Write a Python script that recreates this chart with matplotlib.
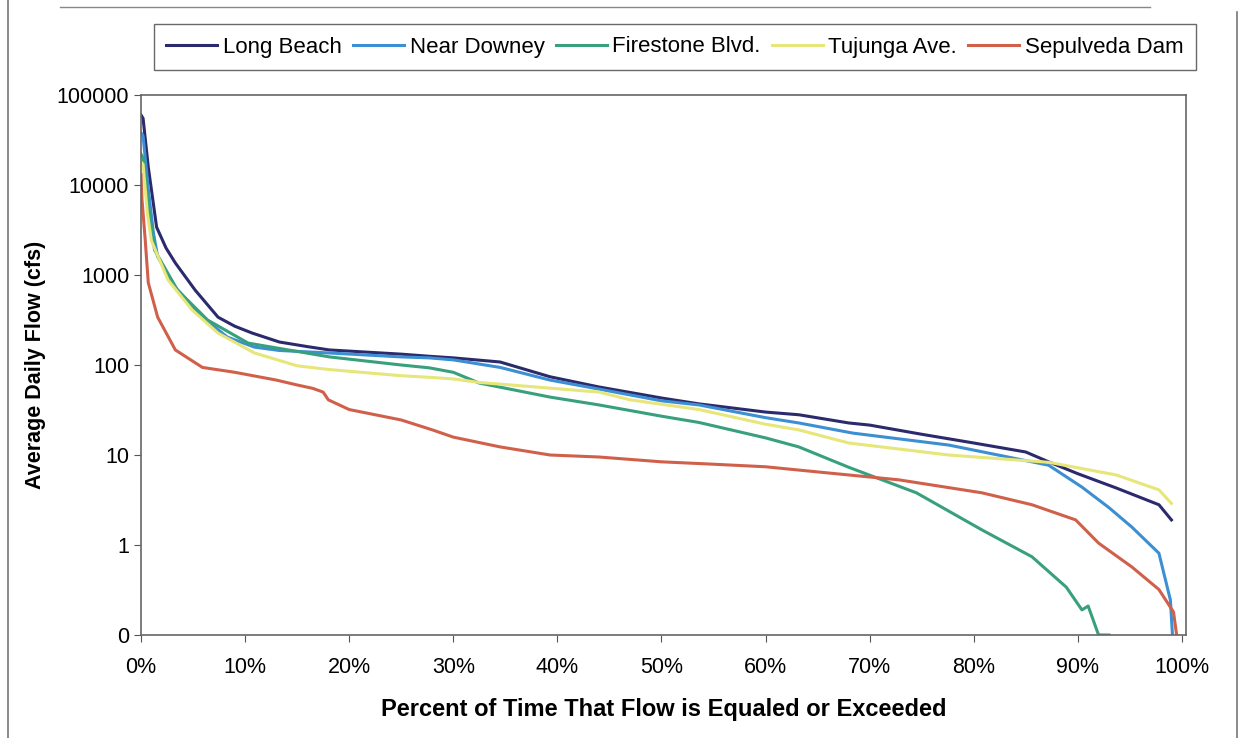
import matplotlib
matplotlib.use('Agg')
import matplotlib.pyplot as plt
from matplotlib.ticker import FixedLocator, FixedFormatter, PercentFormatter
from matplotlib.lines import Line2D

plt.rcParams['font.family'] = ['Liberation Sans', 'DejaVu Sans']

# Flow duration curves (x = fraction of time, y = cfs)
lb_x = [0.0, 0.002, 0.007, 0.015, 0.024, 0.033, 0.052, 0.074, 0.090, 0.107, 0.133, 0.160,
        0.181, 0.25, 0.277, 0.30, 0.345, 0.393, 0.44, 0.50, 0.536, 0.60, 0.632, 0.68,
        0.70, 0.75, 0.80, 0.85, 0.872, 0.90, 0.937, 0.978, 0.99]
lb_y = [60000, 55000, 15800, 3400, 2000, 1360, 680, 340, 270, 226, 180, 160,
        147, 132, 125, 120, 108, 74, 57, 43, 37, 30, 28, 22.7,
        21.5, 17, 13.6, 10.8, 8.4, 6.2, 4.3, 2.8, 1.9]

nd_x = [0.0, 0.002, 0.007, 0.012, 0.016, 0.033, 0.059, 0.083, 0.109, 0.133, 0.181, 0.25,
        0.277, 0.30, 0.345, 0.393, 0.44, 0.50, 0.536, 0.60, 0.632, 0.684, 0.776, 0.872,
        0.904, 0.93, 0.952, 0.978, 0.989, 0.991]
nd_y = [38000, 35000, 9000, 2900, 1600, 730, 340, 204, 158, 145, 136, 123,
        120, 114, 94, 68, 54, 40, 36, 26, 22.7, 17.5, 12.9, 7.7,
        4.4, 2.6, 1.58, 0.81, 0.245, 0.1]

fs_x = [0.0, 0.002, 0.007, 0.013, 0.035, 0.064, 0.103, 0.181, 0.25, 0.277, 0.30, 0.325,
        0.393, 0.44, 0.50, 0.536, 0.60, 0.632, 0.68, 0.745, 0.808, 0.856, 0.889, 0.904,
        0.91, 0.92, 0.93]
fs_y = [22000, 20000, 6000, 1900, 680, 316, 175, 123, 100, 93, 83, 63,
        44, 36, 27, 23, 15.5, 12.3, 7.3, 3.8, 1.47, 0.74, 0.34, 0.19,
        0.21, 0.1, 0.1]

tj_x = [0.0, 0.002, 0.006, 0.010, 0.026, 0.049, 0.074, 0.109, 0.15, 0.181, 0.25, 0.277,
        0.30, 0.325, 0.44, 0.47, 0.536, 0.60, 0.632, 0.68, 0.776, 0.872, 0.937, 0.978, 0.99]
tj_y = [18000, 17000, 5000, 2400, 880, 410, 226, 136, 98, 89, 76, 73,
        70, 64, 50, 41, 32, 22, 19, 13.6, 10, 8.3, 6.0, 4.1, 2.9]

sd_x = [0.0, 0.001, 0.004, 0.007, 0.016, 0.033, 0.059, 0.09, 0.13, 0.15, 0.165, 0.175, 0.18,
        0.20, 0.25, 0.28, 0.30, 0.345, 0.393, 0.44, 0.50, 0.55, 0.60, 0.632, 0.68, 0.728,
        0.808, 0.856, 0.898, 0.92, 0.952, 0.978, 0.992, 0.995]
sd_y = [13000, 6800, 2500, 820, 340, 147, 94, 83, 68, 60, 55, 50, 41,
        32, 24.5, 19, 15.8, 12.3, 10, 9.5, 8.4, 7.9, 7.4, 6.8, 6.0, 5.3,
        3.8, 2.8, 1.9, 1.05, 0.57, 0.32, 0.18, 0.1]

series = [
    ('Long Beach', lb_x, lb_y, '#2b2a6c'),
    ('Near Downey', nd_x, nd_y, '#3b8fd2'),
    ('Firestone Blvd.', fs_x, fs_y, '#38a07c'),
    ('Tujunga Ave.', tj_x, tj_y, '#e6e67a'),
    ('Sepulveda Dam', sd_x, sd_y, '#d0604a'),
]

y_ticks = [0.1, 1, 10, 100, 1000, 10000, 100000]
y_labels = ['0', '1', '10', '100', '1000', '10000', '100000']

fig = plt.figure(figsize=(12.41, 7.38), dpi=100)
ax = fig.add_axes([141 / 1241, 1 - 635 / 738, (1186 - 141) / 1241, (635 - 95) / 738])

for name, xs, ys, col in series:
    ax.plot(xs, ys, color=col, lw=2.2, label=name)

ax.set_yscale('log')
ax.set_ylim(0.1, 100000)
ax.set_xlim(0, 1.004)
ax.yaxis.set_major_locator(FixedLocator(y_ticks))
ax.yaxis.set_major_formatter(FixedFormatter(y_labels))
ax.yaxis.set_minor_locator(FixedLocator([]))
ax.set_xticks([i / 10 for i in range(11)])
ax.xaxis.set_major_formatter(PercentFormatter(1.0, decimals=0))

ax.tick_params(axis='both', labelsize=15.5, color='#555555', length=5, direction='out')
ax.tick_params(axis='x', pad=11)
for sp in ax.spines.values():
    sp.set_color('#666666')
    sp.set_linewidth(1.2)

ax.set_ylabel('Average Daily Flow (cfs)', fontsize=15.5, fontweight='bold', labelpad=8)
ax.set_xlabel('Percent of Time That Flow is Equaled or Exceeded', fontsize=17,
              fontweight='bold', labelpad=14)

leg = fig.legend(loc='center', bbox_to_anchor=(675 / 1241, 1 - 47 / 738), ncol=5,
                 fontsize=16, frameon=True, fancybox=False, edgecolor='#444444',
                 handlelength=2.3, handletextpad=0.25, columnspacing=0.5,
                 borderpad=0.55, borderaxespad=0)
leg.get_frame().set_linewidth(1.0)

# scanned page edges
fig.add_artist(Line2D([8 / 1241, 8 / 1241], [0, 1], color='#777777', lw=1.2))
fig.add_artist(Line2D([1237 / 1241, 1237 / 1241], [0, 1 - 12 / 738], color='#777777', lw=1.2))
fig.add_artist(Line2D([60 / 1241, 1150 / 1241], [1 - 7 / 738, 1 - 7 / 738], color='#888888', lw=1.0))

fig.savefig('out.png', dpi=100)
